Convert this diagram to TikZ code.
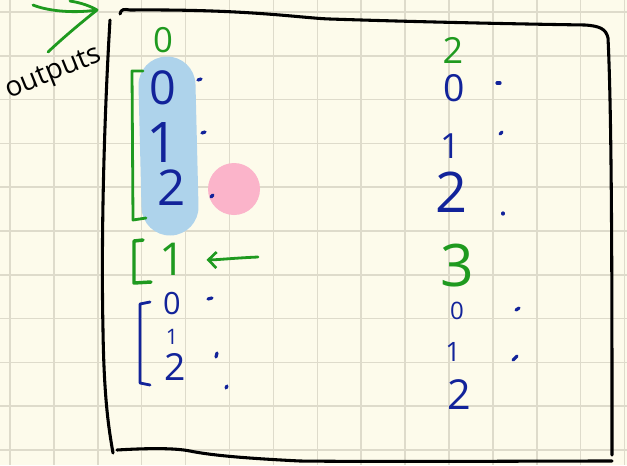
\documentclass[tikz,border=0pt]{standalone}
\usepackage{fontspec}
\setmainfont{Open Sans}
\usetikzlibrary{arrows.meta}
\definecolor{paper}{HTML}{FDFBEB}
\definecolor{gridc}{HTML}{DEDBCB}
\definecolor{inkblue}{HTML}{12239A}
\definecolor{inkgreen}{HTML}{1F9A1F}
\definecolor{hlblue}{HTML}{AED3EB}
\definecolor{hlpink}{HTML}{FBB4CA}
\tikzset{
  gridline/.style={gridc, line width=1.1pt},
  boxline/.style={black, line width=2.3pt, line cap=round, line join=round},
  greenink/.style={inkgreen, line width=2.1pt, line cap=round, line join=round},
  blueink/.style={inkblue, line width=2.1pt, line cap=round, line join=round},
  dotmark/.style={inkblue, line width=2.4pt, line cap=round},
  dig/.style={inner sep=0pt, font=\fontsize{#1}{#1}\selectfont},
  bd/.style={dig=#1, text=inkblue},
  gd/.style={dig=#1, text=inkgreen},
}
\begin{document}
\begin{tikzpicture}[x=0.75pt,y=-0.75pt]
\useasboundingbox (0,0) rectangle (627,465);
\fill[paper] (0,0) rectangle (627,465);
% grid
\foreach \k in {0,...,14} {\draw[gridline] ({10+43.9*\k},0) -- ({10+43.9*\k},465);}
\foreach \k in {0,...,10} {\draw[gridline] (0,{12+43.8*\k}) -- (627,{12+43.8*\k});}

% frame
\draw[boxline] (120,14) .. controls (121,9) and (124,9) .. (130,10)
  .. controls (250,9) and (300,18) .. (330,19)
  .. controls (420,22) and (520,24) .. (585,25)
  .. controls (600,26) and (606,29) .. (608,38)
  .. controls (612,120) and (612,300) .. (612,455);
\draw[boxline] (110,20) .. controls (104,120) and (101,240) .. (103,330)
  .. controls (104,400) and (109,430) .. (113,453);
\draw[boxline] (117,450) .. controls (150,448) and (175,448) .. (190,451)
  .. controls (210,455) and (240,458) .. (300,461)
  .. controls (400,462) and (520,461) .. (612,461);

% highlights
\draw[hlblue, line width=42.75pt, line cap=round] (167,85) -- (170,207);
\fill[hlpink] (234,189) circle (26);

% outputs label and arrow
\node[rotate=22, inner sep=0pt, font=\fontsize{21}{21}\selectfont] (outputs) at (54,74) {outputs};
\coordinate (otip) at (97,10);
\draw[greenink] (48,52) .. controls (65,36) and (82,22) .. (otip);
\draw[greenink] (33,5) .. controls (45,10) and (70,14) .. (otip);
\draw[greenink] (70,1) .. controls (82,3) and (90,6) .. (otip);

% column 1 headers and digits
\node[gd=26] (h0) at (163,40) {0};
\node[bd=35] (a0) at (163,88) {0};
\node[bd=42] (a1) at (163,143) {1};
\node[bd=37] (a2) at (172,188) {2};
\draw[dotmark] (198,80) -- (201,79);
\draw[dotmark] (202,133) -- (205,132);
\draw[dotmark] (211,197) -- (213,195);
\draw[greenink] (143,71) -- (132,71) -- (133,220) -- (146,218);

\node[gd=34] (h1) at (172,259) {1};
\draw[greenink, line width=2.6pt] (143,240) -- (134,241) -- (134,283) -- (151,282);
\coordinate (gstart) at (258,257);
\draw[greenink, -{Straight Barb[length=6pt,width=12pt,line width=2pt]}, shorten >=16pt] (gstart) .. controls (235,258) and (215,260) .. (h1);

\node[bd=23] (b0) at (172,304) {0};
\node[bd=16] (b1) at (172,337) {1};
\node[bd=28] (b2) at (175,367) {2};
\draw[dotmark] (208,299) -- (212,298);
\draw[dotmark] (216,357) -- (217,353);
\draw[dotmark] (226,388) -- (227,386);
\draw[blueink] (150,302) -- (140,304) -- (140,383) -- (150,385);

% column 2
\node[gd=27] (h2) at (453,50) {2};
\node[bd=28] (c0) at (454,88) {0};
\node[bd=26] (c1) at (450,146) {1};
\node[bd=42] (c2) at (452,192) {2};
\draw[dotmark] (497,83) -- (500,83);
\draw[dotmark] (500,134) -- (502,132);
\draw[dotmark] (503,213) -- (503,214);

\node[gd=44] (h3) at (457,266) {3};
\node[bd=18] (d0) at (457,311) {0};
\node[bd=20] (d1) at (453,352) {1};
\node[bd=31] (d2) at (459,395) {2};
\draw[dotmark] (516,310) -- (519,308);
\draw[dotmark] (513,360) -- (517,356);
\end{tikzpicture}
\end{document}
